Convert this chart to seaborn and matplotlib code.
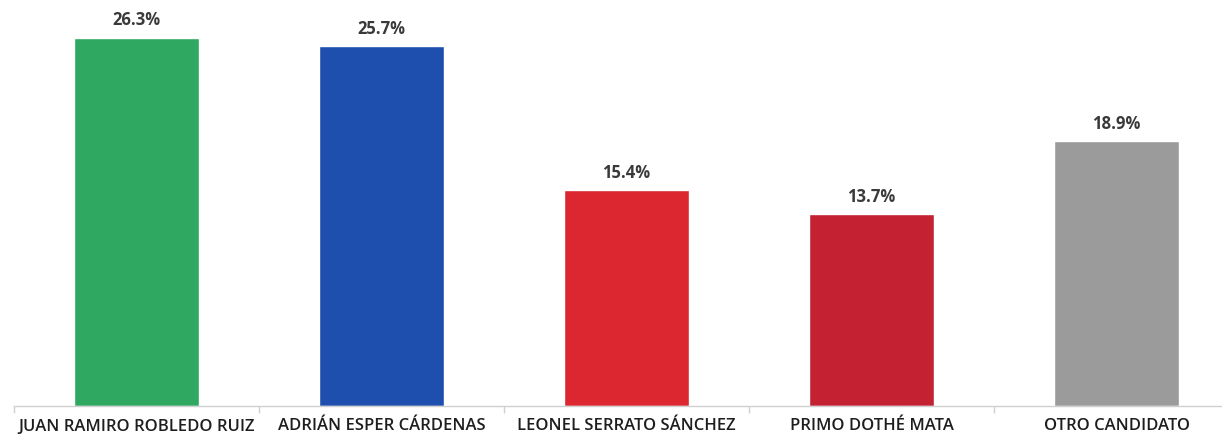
import matplotlib
matplotlib.use('Agg')
import matplotlib.pyplot as plt
import seaborn as sns
import pandas as pd
import numpy as np

candidates = ['JUAN RAMIRO ROBLEDO RUIZ', 'ADRIÁN ESPER CÁRDENAS', 'LEONEL SERRATO SÁNCHEZ',
              'PRIMO DOTHÉ MATA', 'OTRO CANDIDATO']
shares = [26.3, 25.7, 15.4, 13.7, 18.9]
colors = ['#2fa862', '#1f4fae', '#dc2630', '#c42232', '#9b9b9b']

sns.set_style('white')
plt.rcParams['font.family'] = ['Open Sans', 'DejaVu Sans']

data = pd.DataFrame({'candidate': candidates, 'share': shares})

fig = plt.figure(figsize=(12.22, 4.41), dpi=100)
ax = fig.add_axes([14 / 1222, 35 / 441, 1225 / 1222, 406 / 441])
sns.barplot(data=data, x='candidate', y='share', hue='candidate', palette=colors,
            legend=False, width=0.51, saturation=1, ax=ax)

for patch, val in zip(ax.patches, shares):
    ax.annotate('{:.1f}%'.format(val), (patch.get_x() + patch.get_width() / 2, val),
                xytext=(0, 6), textcoords='offset points', ha='center', va='bottom',
                fontsize=12, fontweight='bold', color='#3a3a3a')

ax.set_xlim(-0.5, 4.5)
ax.set_ylim(0, 29)
ax.set_xlabel('')
ax.set_ylabel('')
ax.set_yticks([])
ax.set_xticks(range(len(candidates)))
ax.set_xticklabels(candidates, fontsize=12, fontweight='semibold', color='#1e1e1e')
ax.set_xticks(np.arange(-0.5, 5, 1), minor=True)
ax.tick_params(axis='x', which='major', length=0, pad=9)
ax.tick_params(axis='x', which='minor', length=5, color='#d0d0d0', width=1, bottom=True)
for side in ['top', 'right', 'left']:
    ax.spines[side].set_visible(False)
ax.spines['bottom'].set_color('#d0d0d0')
ax.spines['bottom'].set_linewidth(1)

fig.savefig('out.png', dpi=100)
